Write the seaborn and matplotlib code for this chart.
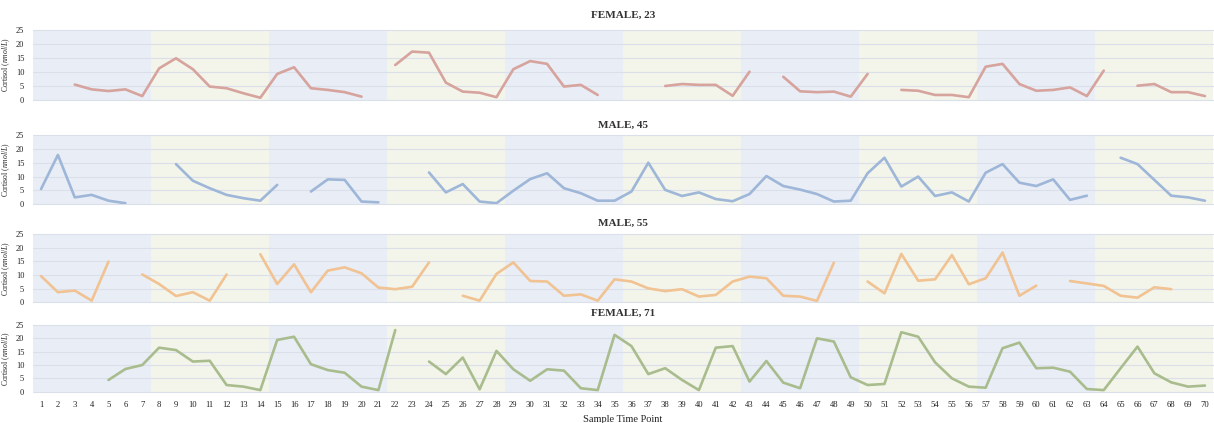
import numpy as np
import pandas as pd
import seaborn as sns
import matplotlib.pyplot as plt

# ------------------------------- data -------------------------------
time_points = list(range(1, 71))
N = None

female_23 = [N, N, 5.5, 3.8, 3.2, 3.8, 1.4, 11.3, 14.9, 11.0, 4.8, 4.2, 2.4, 0.8,
             9.3, 11.7, 4.2, 3.6, 2.8, 1.2, N, 12.5, 17.3, 16.9, 6.2, 3.0, 2.6, 1.0,
             11.0, 13.9, 12.9, 4.8, 5.4, 1.8, N, N, N, 5.0, 5.7, 5.4, 5.4, 1.5,
             10.1, N, 8.3, 3.1, 2.8, 3.0, 1.2, 9.3, N, 3.6, 3.3, 1.8, 1.8, 1.0,
             11.9, 12.9, 5.7, 3.3, 3.6, 4.5, 1.4, 10.5, N, 5.1, 5.7, 2.8, 2.8, 1.4]

male_45 = [5.5, 17.8, 2.5, 3.4, 1.3, 0.4, N, N, 14.5, 8.5, 5.8, 3.4, 2.2, 1.3,
           7.0, N, 4.6, 9.0, 8.8, 1.0, 0.7, N, N, 11.5, 4.3, 7.3, 1.0, 0.4,
           4.9, 9.1, 11.2, 5.8, 4.0, 1.3, 1.3, 4.6, 15.0, 5.2, 3.0, 4.3, 1.9, 1.1,
           3.7, 10.2, 6.6, 5.3, 3.7, 1.0, 1.3, 11.2, 16.8, 6.4, 10.0, 3.0, 4.3, 1.0,
           11.4, 14.5, 7.8, 6.6, 9.0, 1.6, 3.1, N, 16.8, 14.5, 8.8, 3.1, 2.5, 1.3]

male_55 = [9.6, 3.7, 4.3, 0.6, 14.9, N, 10.2, 6.7, 2.3, 3.7, 0.6, 10.2, N, 17.6,
           6.7, 13.9, 3.7, 11.6, 12.8, 10.6, 5.4, 4.8, 5.7, 14.6, N, 2.4, 0.6, 10.4,
           14.6, 7.8, 7.6, 2.4, 2.9, 0.6, 8.4, 7.6, 5.1, 4.1, 4.8, 2.1, 2.7, 7.6,
           9.4, 8.8, 2.4, 2.1, 0.5, 14.5, N, 7.6, 3.3, 17.7, 7.9, 8.4, 17.3, 6.6,
           8.8, 18.2, 2.4, 6.1, N, 7.8, 6.9, 6.0, 2.4, 1.7, 5.5, 4.8, N, N]

female_71 = [N, N, N, N, 4.4, 8.5, 10.0, 16.5, 15.6, 11.3, 11.6, 2.5, 1.9, 0.6,
             19.4, 20.6, 10.3, 8.1, 7.1, 1.9, 0.6, 23.1, N, 11.3, 6.6, 12.8, 0.9, 15.3,
             8.4, 4.1, 8.4, 7.9, 1.3, 0.6, 21.3, 17.1, 6.6, 8.8, 4.4, 0.6, 16.5, 17.1,
             3.8, 11.5, 3.4, 1.3, 20.0, 18.8, 5.4, 2.5, 2.9, 22.3, 20.6, 11.0, 5.0, 1.9,
             1.5, 16.3, 18.4, 8.8, 9.0, 7.5, 1.0, 0.6, 8.8, 16.9, 6.9, 3.5, 1.9, 2.3]

panels = ["FEMALE, 23", "MALE, 45", "MALE, 55", "FEMALE, 71"]
series = [female_23, male_45, male_55, female_71]
line_colors = ["#D6A39D", "#9EB6D7", "#F1C292", "#A9BC8D"]

# ------------------------------- style -------------------------------
sns.set_style("white")
plt.rcParams["font.family"] = ["Liberation Serif", "DejaVu Serif"]
plt.rcParams["mathtext.fontset"] = "custom"
plt.rcParams["mathtext.it"] = "Liberation Serif:italic"
plt.rcParams["mathtext.rm"] = "Liberation Serif"

fig = plt.figure(figsize=(12.14, 4.23), dpi=100)
W, H = 1214, 423

# axes boxes in pixels: (top, bottom)
boxes = [(30, 100), (135, 204.3), (234, 302.3), (325, 391.7)]
title_y = [15, 125, 223, 313]
left_px, right_px = 32.6, 1213.4

band_blue = "#E9EDF6"
band_green = "#F3F5EB"

for k, (name, vals, col) in enumerate(zip(panels, series, line_colors)):
    top, bot = boxes[k]
    ax = fig.add_axes([left_px / W, 1 - bot / H, (right_px - left_px) / W, (bot - top) / H])

    # weekly background bands
    for w in range(10):
        ax.axvspan(0.5 + 7 * w, 7.5 + 7 * w, color=band_blue if w % 2 == 0 else band_green,
                   lw=0, zorder=0)

    # split into segments so gaps break the line
    df = pd.DataFrame({"t": time_points, "cortisol": vals}).astype(float)
    df["seg"] = df["cortisol"].isna().cumsum()
    df = df.dropna()
    sns.lineplot(data=df, x="t", y="cortisol", units="seg", estimator=None,
                 color=col, lw=1.9, ax=ax, zorder=3)

    ax.set_xlim(0.5, 70.5)
    ax.set_ylim(0, 25)
    ax.set_yticks([0, 5, 10, 15, 20, 25])
    for yv in [0, 5, 10, 15, 20, 25]:
        ax.axhline(yv, color="#DADFEA", lw=0.8, zorder=1, clip_on=False)
    for s in ax.spines.values():
        s.set_visible(False)
    ax.tick_params(axis="y", length=0, pad=6, labelsize=6, labelcolor="#222222")
    ax.set_ylabel("Cortisol ($\\it{nmol/L}$)", fontsize=5.5, labelpad=3, color="#222222")
    ax.set_xticks(time_points)
    if k == 3:
        ax.set_xticklabels([str(t) for t in time_points])
        ax.tick_params(axis="x", length=0, pad=7, labelsize=6.2, labelcolor="#222222")
        ax.set_xlabel("Sample Time Point", fontsize=7.5, labelpad=4, color="#222222")
    else:
        ax.set_xticklabels([])
        ax.tick_params(axis="x", length=0)
        ax.set_xlabel("")

    fig.text((left_px + right_px) / 2 / W, 1 - title_y[k] / H, name, ha="center", va="center",
             fontsize=8, fontweight="bold", color="#333333")

fig.savefig("out.png", dpi=100)
